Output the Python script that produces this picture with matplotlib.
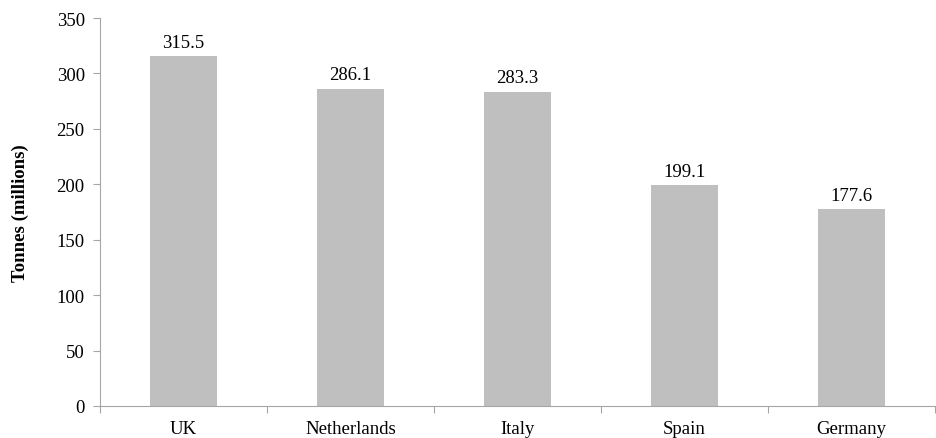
import matplotlib
matplotlib.use("Agg")
import matplotlib.pyplot as plt
import numpy as np

plt.rcParams['font.family'] = ['Liberation Serif', 'DejaVu Serif']

countries = ["UK", "Netherlands", "Italy", "Spain", "Germany"]
tonnes = [315.5, 286.1, 283.3, 199.1, 177.6]

fs = 13.5
fig = plt.figure(figsize=(9.36, 4.39), dpi=100)
ax = fig.add_axes([100 / 936, 1 - 407 / 439, 835 / 936, 388 / 439])

x = np.arange(len(countries))
bars = ax.bar(x, tonnes, width=0.4, color='#bfbfbf', zorder=2)

for xi, v in zip(x, tonnes):
    ax.text(xi, v + 5, f"{v:.1f}", ha='center', va='bottom', fontsize=fs)

ax.set_xlim(-0.5, len(countries) - 0.5)
ax.set_ylim(0, 350)
ax.set_yticks(np.arange(0, 351, 50))
ax.set_xticks(x)
ax.set_xticklabels(countries, fontsize=fs)
ax.set_xticks(np.arange(-0.5, len(countries) + 0.5, 1), minor=True)
ax.tick_params(axis='x', which='major', length=0, pad=10)
ax.tick_params(axis='x', which='minor', length=5, color='#a6a6a6', width=0.8)
ax.tick_params(axis='y', length=5, color='#a6a6a6', width=0.8, labelsize=fs, pad=6)

for side in ['top', 'right']:
    ax.spines[side].set_visible(False)
for side in ['left', 'bottom']:
    ax.spines[side].set_color('#a6a6a6')
    ax.spines[side].set_linewidth(0.8)

ax.set_ylabel('Tonnes (millions)', fontsize=fs, fontweight='bold', labelpad=20)

fig.savefig('out.png', dpi=100)
